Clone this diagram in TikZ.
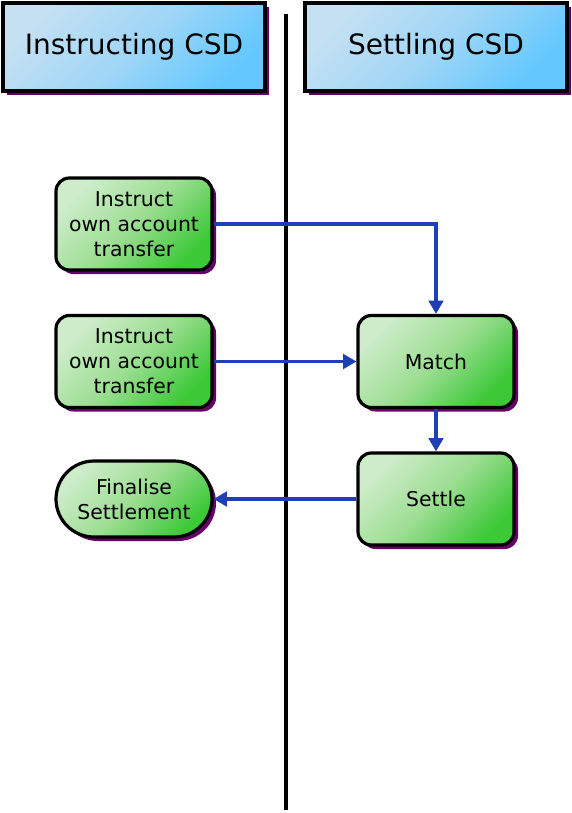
\documentclass[tikz,border=0pt]{standalone}
\usepackage{fontspec}
\setmainfont{DejaVu Sans}
\usetikzlibrary{shadows,shapes.misc,arrows.meta}
\definecolor{shadowc}{RGB}{102,0,102}
\definecolor{greenA}{RGB}{206,236,202}
\definecolor{greenM}{RGB}{156,222,146}
\definecolor{greenB}{RGB}{60,200,55}
\definecolor{blueA}{RGB}{196,224,242}
\definecolor{blueM}{RGB}{160,214,246}
\definecolor{blueB}{RGB}{100,200,255}
\definecolor{flow}{RGB}{30,64,180}
\tikzset{
  lane/.style={draw=black, line width=2.8pt, minimum width=196pt, minimum height=66pt,
    top color=blueA, bottom color=blueB, middle color=blueM, shading angle=45,
    drop shadow={shadow xshift=3pt, shadow yshift=-3pt, fill=shadowc, opacity=1},
    font=\fontsize{21}{24}\selectfont},
  task/.style={draw=black, line width=2.4pt, rounded corners=10pt,
    minimum width=117pt, minimum height=69pt, align=center,
    top color=greenA, bottom color=greenB, middle color=greenM, shading angle=45,
    drop shadow={shadow xshift=3pt, shadow yshift=-3pt, fill=shadowc, opacity=1},
    font=\fontsize{15.3}{18.8}\selectfont, inner sep=0pt},
  terminal/.style={task, rounded rectangle, rounded corners=0pt, minimum height=57pt},
  flowline/.style={draw=flow, line width=2.3pt, -{Triangle[length=10pt,width=11pt]}}
}
\begin{document}
\begin{tikzpicture}[x=0.75pt,y=-0.75pt]
\useasboundingbox (0,0) rectangle (571,813);
% swimlane divider
\draw[line width=2.6pt] (286,14) -- (286,810);
% lane headers
\node[lane] (h1) at (134,47) {Instructing CSD};
\node[lane] (h2) at (436,47) {Settling CSD};
% activities
\node[task] (t1) at (134,224) {Instruct\\own account\\transfer};
\node[task] (t2) at (134,361.5) {Instruct\\own account\\transfer};
\node[task] (m) at (436,361.5) {Match};
\node[task] (s) at (436,499) {Settle};
\node[terminal] (f) at (134,499) {Finalise\\Settlement};
% flows
\draw[flowline] (t1.east) -| (m.north);
\draw[flowline] (t2.east) -- (m.west);
\draw[flowline] (m.south) -- (s.north);
\draw[flowline] (s.west) -- (f.east);
\end{tikzpicture}
\end{document}
